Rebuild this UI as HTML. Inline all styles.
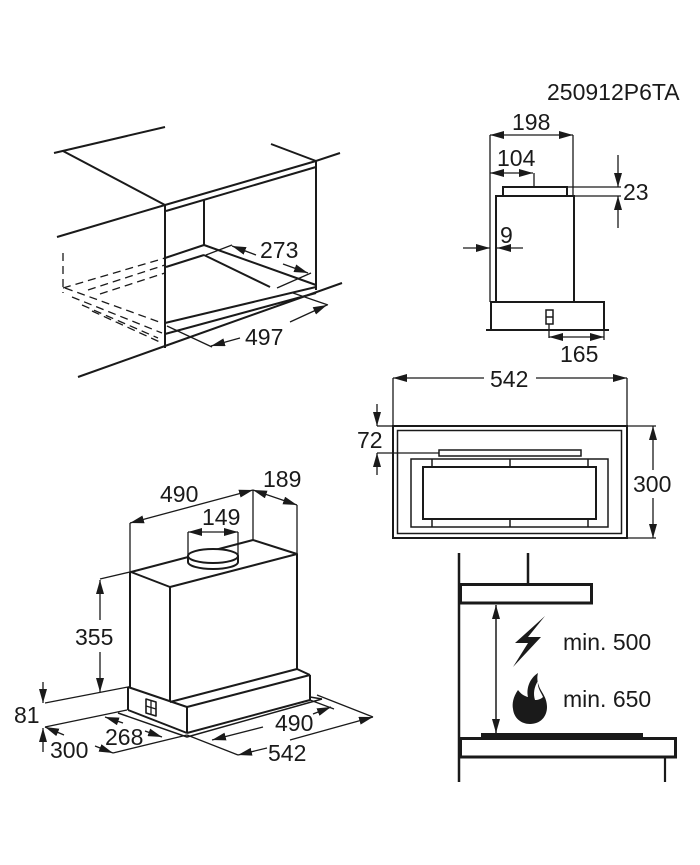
<!DOCTYPE html>
<html><head><meta charset="utf-8"><style>
html,body{margin:0;padding:0;background:#fff;}
svg{display:block;}
text{font-family:"Liberation Sans",Arial,sans-serif;font-size:23px;fill:#1a1a1a;}
</style></head><body>
<svg width="700" height="865" viewBox="0 0 700 865" xmlns="http://www.w3.org/2000/svg">
<defs>
<marker id="ar" viewBox="0 0 14 8" refX="14" refY="4" markerWidth="14" markerHeight="8" markerUnits="userSpaceOnUse" orient="auto-start-reverse"><path d="M0,0L14,4L0,8z" fill="#1a1a1a"/></marker>
</defs>
<rect width="700" height="865" fill="#fff"/>

<!-- ============ TOP LEFT ============ -->
<g stroke="#1a1a1a" stroke-width="2" fill="none">
<line x1="54" y1="153" x2="165" y2="127"/>
<line x1="63" y1="151" x2="165" y2="205"/>
<line x1="57" y1="237" x2="165" y2="205"/>
<line x1="165" y1="204" x2="165" y2="348"/>
<line x1="165" y1="205" x2="316" y2="161"/>
<line x1="166" y1="211" x2="316" y2="167"/>
<polyline points="271,144 316,161 340,153"/>
<line x1="316" y1="160" x2="316" y2="290"/>
<line x1="204" y1="200" x2="204" y2="245"/>
<line x1="165" y1="258" x2="204" y2="245"/>
<line x1="204" y1="245" x2="316" y2="285"/>
<line x1="166" y1="267" x2="204" y2="255"/>
<line x1="204" y1="255" x2="270" y2="287"/>
<line x1="165" y1="323" x2="316" y2="287"/>
<line x1="165" y1="334" x2="316" y2="293"/>
<line x1="165" y1="346" x2="342" y2="283"/>
<line x1="78" y1="377" x2="165" y2="346"/>
</g>
<g stroke="#1a1a1a" stroke-width="1.3" fill="none" stroke-dasharray="8,5">
<line x1="63" y1="253" x2="63" y2="293"/>
<line x1="63" y1="288" x2="165" y2="258"/>
<line x1="88" y1="290" x2="165" y2="265"/>
<line x1="100" y1="294" x2="165" y2="273"/>
<line x1="65" y1="288" x2="162" y2="323"/>
<line x1="72" y1="297" x2="162" y2="333"/>
<line x1="82" y1="305" x2="158" y2="338"/>
<line x1="92" y1="311" x2="162" y2="343"/>
</g>
<g stroke="#1a1a1a" stroke-width="1.3" fill="none">
<line x1="206" y1="255" x2="232" y2="245"/>
<line x1="277" y1="288" x2="311" y2="273"/>
<line x1="232" y1="246" x2="256" y2="255" marker-start="url(#ar)"/>
<line x1="283" y1="264" x2="308" y2="273" marker-end="url(#ar)"/>
<line x1="167" y1="326" x2="212" y2="347"/>
<line x1="293" y1="293" x2="328" y2="305"/>
<line x1="240" y1="338" x2="211" y2="346" marker-end="url(#ar)"/>
<line x1="290" y1="322" x2="327" y2="305" marker-end="url(#ar)"/>
</g>
<text x="260" y="258">273</text>
<text x="245" y="345">497</text>

<!-- ============ TOP RIGHT ============ -->
<text x="547" y="100">250912P6TA</text>
<g stroke="#1a1a1a" stroke-width="1.3" fill="none">
<line x1="490" y1="135" x2="573" y2="135" marker-start="url(#ar)" marker-end="url(#ar)"/>
<line x1="490" y1="135" x2="490" y2="302"/>
<line x1="573" y1="135" x2="573" y2="196"/>
<line x1="490" y1="173" x2="533" y2="173" marker-start="url(#ar)" marker-end="url(#ar)"/>
<line x1="534" y1="173" x2="534" y2="187"/>
<line x1="567" y1="187" x2="621" y2="187"/>
<line x1="574" y1="196" x2="621" y2="196"/>
<line x1="618" y1="155" x2="618" y2="187" marker-end="url(#ar)"/>
<line x1="618" y1="228" x2="618" y2="196" marker-end="url(#ar)"/>
<line x1="463" y1="248" x2="490" y2="248" marker-end="url(#ar)"/>
<line x1="523" y1="248" x2="497" y2="248" marker-end="url(#ar)"/>
<line x1="549" y1="324" x2="549" y2="338"/>
<line x1="549" y1="337" x2="604" y2="337" marker-start="url(#ar)" marker-end="url(#ar)"/>
<line x1="604" y1="330" x2="604" y2="340"/>
</g>
<g stroke="#1a1a1a" stroke-width="2" fill="none">
<rect x="503" y="187" width="64" height="9"/>
<rect x="496" y="196" width="78" height="106"/>
<rect x="491" y="302" width="113" height="28"/>
<line x1="486" y1="330" x2="609" y2="330"/>
<rect x="546" y="310" width="7" height="14" stroke-width="1.5"/>
<line x1="546" y1="317" x2="553" y2="317" stroke-width="1.5"/>
</g>
<text x="500" y="243">9</text>
<text x="512" y="130">198</text>
<text x="497" y="166">104</text>
<text x="623" y="200">23</text>
<text x="560" y="362">165</text>

<!-- ============ MIDDLE RIGHT ============ -->
<g stroke="#1a1a1a" stroke-width="1.3" fill="none">
<line x1="393" y1="378" x2="484" y2="378" marker-start="url(#ar)"/>
<line x1="536" y1="378" x2="627" y2="378" marker-end="url(#ar)"/>
<line x1="393" y1="378" x2="393" y2="426"/>
<line x1="627" y1="378" x2="627" y2="426"/>
<line x1="377" y1="426" x2="393" y2="426"/>
<line x1="377" y1="453" x2="439" y2="453"/>
<line x1="377" y1="404" x2="377" y2="426" marker-end="url(#ar)"/>
<line x1="377" y1="475" x2="377" y2="453" marker-end="url(#ar)"/>
<line x1="627" y1="426" x2="656" y2="426"/>
<line x1="627" y1="538" x2="656" y2="538"/>
<line x1="653" y1="470" x2="653" y2="426" marker-end="url(#ar)"/>
<line x1="653" y1="498" x2="653" y2="538" marker-end="url(#ar)"/>
</g>
<g stroke="#1a1a1a" fill="none">
<rect x="393" y="426" width="234" height="112" stroke-width="2"/>
<rect x="397.5" y="430.5" width="224" height="103" stroke-width="1.5"/>
<rect x="439" y="450" width="142" height="6" stroke-width="1.5"/>
<rect x="411" y="459" width="197" height="68" stroke-width="1.5"/>
<rect x="423" y="467" width="173" height="52" stroke-width="2"/>
<line x1="432" y1="459" x2="432" y2="467" stroke-width="1.5"/>
<line x1="510" y1="459" x2="510" y2="467" stroke-width="1.5"/>
<line x1="588" y1="459" x2="588" y2="467" stroke-width="1.5"/>
<line x1="432" y1="519" x2="432" y2="527" stroke-width="1.5"/>
<line x1="510" y1="519" x2="510" y2="527" stroke-width="1.5"/>
<line x1="588" y1="519" x2="588" y2="527" stroke-width="1.5"/>
</g>
<text x="490" y="387">542</text>
<text x="357" y="448">72</text>
<text x="633" y="492">300</text>

<!-- ============ BOTTOM LEFT ============ -->
<g stroke="#1a1a1a" stroke-width="1.3" fill="none">
<line x1="130" y1="523" x2="253" y2="490" marker-start="url(#ar)" marker-end="url(#ar)"/>
<line x1="253" y1="490" x2="297" y2="505" marker-start="url(#ar)" marker-end="url(#ar)"/>
<line x1="130" y1="523" x2="130" y2="572"/>
<line x1="253" y1="490" x2="253" y2="540"/>
<line x1="297" y1="505" x2="297" y2="555"/>
<line x1="188" y1="532" x2="238" y2="532" marker-start="url(#ar)" marker-end="url(#ar)"/>
<line x1="188" y1="532" x2="188" y2="556"/>
<line x1="238" y1="532" x2="238" y2="556"/>
<line x1="100" y1="579" x2="130" y2="572"/>
<line x1="100" y1="620" x2="100" y2="580" marker-end="url(#ar)"/>
<line x1="100" y1="652" x2="100" y2="692" marker-end="url(#ar)"/>
<line x1="45" y1="703" x2="128" y2="687"/>
<line x1="43" y1="682" x2="43" y2="703" marker-end="url(#ar)"/>
<line x1="45" y1="727" x2="127" y2="710"/>
<line x1="43" y1="752" x2="43" y2="728" marker-end="url(#ar)"/>
<line x1="64" y1="735" x2="45" y2="727" marker-end="url(#ar)"/>
<line x1="95" y1="746" x2="113" y2="753" marker-end="url(#ar)"/>
<line x1="113" y1="753" x2="187" y2="735"/>
<line x1="123" y1="723" x2="105" y2="717" marker-end="url(#ar)"/>
<line x1="145" y1="731" x2="162" y2="737" marker-end="url(#ar)"/>
<line x1="263" y1="727" x2="212" y2="740" marker-end="url(#ar)"/>
<line x1="313" y1="714" x2="331" y2="707" marker-end="url(#ar)"/>
<line x1="310" y1="700" x2="334" y2="709"/>
<line x1="187" y1="735" x2="238" y2="755"/>
<line x1="317" y1="695" x2="373" y2="717"/>
<line x1="267" y1="748" x2="238" y2="755" marker-end="url(#ar)"/>
<line x1="290" y1="740" x2="373" y2="717" marker-end="url(#ar)"/>
</g>
<g stroke="#1a1a1a" stroke-width="2" fill="none" stroke-linejoin="round">
<polygon points="131,572 253,540 297,554 170,587"/>
<line x1="130" y1="572" x2="130" y2="687"/>
<line x1="170" y1="587" x2="170" y2="702"/>
<line x1="297" y1="554" x2="297" y2="669"/>
<line x1="170" y1="702" x2="297" y2="669"/>
<line x1="297" y1="669" x2="310" y2="675"/>
<line x1="128" y1="687" x2="187" y2="707"/>
<line x1="187" y1="707" x2="310" y2="675"/>
<line x1="187" y1="733" x2="310" y2="700"/>
<line x1="128" y1="710" x2="187" y2="733"/>
<line x1="128" y1="687" x2="128" y2="710"/>
<line x1="187" y1="707" x2="187" y2="733"/>
<line x1="310" y1="675" x2="310" y2="700"/>
<polyline points="118,713 187,737 322,699" stroke-width="1.5"/>
<line x1="310" y1="697" x2="322" y2="699" stroke-width="1.5"/>
<polygon points="146,699 156,702 156,716 146,713" stroke-width="1.6"/>
<line x1="146" y1="706" x2="156" y2="709" stroke-width="1.3"/>
<line x1="151" y1="701" x2="151" y2="714" stroke-width="1.3"/>
<path d="M188,556 L188,562 A25,7 0 0 0 238,562 L238,556" fill="#fff"/>
<ellipse cx="213" cy="556" rx="25" ry="7" fill="#fff"/>
</g>
<text x="160" y="502">490</text>
<text x="263" y="487">189</text>
<text x="202" y="525">149</text>
<text x="75" y="645">355</text>
<text x="14" y="723">81</text>
<text x="50" y="758">300</text>
<text x="105" y="745">268</text>
<text x="275" y="731">490</text>
<text x="268" y="761">542</text>

<!-- ============ BOTTOM RIGHT ============ -->
<g stroke="#1a1a1a" fill="none">
<line x1="459" y1="553" x2="459" y2="782" stroke-width="2.5"/>
<line x1="528" y1="553" x2="528" y2="584" stroke-width="2.5"/>
<rect x="460.5" y="584.5" width="131" height="18.5" stroke-width="3"/>
<line x1="496" y1="605" x2="496" y2="733" stroke-width="1.5" marker-start="url(#ar)" marker-end="url(#ar)"/>
<rect x="460.5" y="738.5" width="215" height="18.5" stroke-width="3"/>
<line x1="665" y1="758" x2="665" y2="782" stroke-width="2.2"/>
</g>
<rect x="481" y="733" width="162" height="5" fill="#1a1a1a"/>
<polygon points="545,616 515,643 528,643 513,667 541,637 528,637" fill="#1a1a1a"/>
<path d="M538,673 C530,678 526,688 528,697 C524,696 521,694 518,690 C513,697 512,704 513,709 C514,718 521,724 530,724 C540,724 547,717 547,707 C547,697 541,692 539,686 C537,681 537,677 538,673 Z" fill="#1a1a1a"/>
<path d="M538,681 C534,687 533,694 535,700 C538,700 541,699 543,697 C541,692 537,688 538,681 Z" fill="#fff"/>
<text x="563" y="650">min. 500</text>
<text x="563" y="707">min. 650</text>
</svg>
</body></html>
